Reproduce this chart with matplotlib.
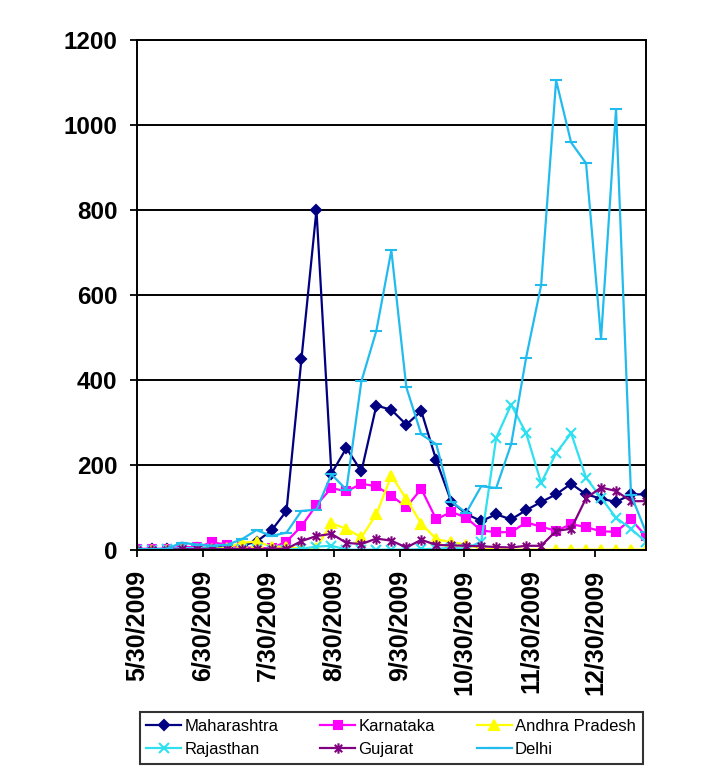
import matplotlib
matplotlib.use('Agg')
import matplotlib.pyplot as plt
from matplotlib.path import Path
import pandas as pd

# weekly counts, first week starting 5/30/2009
weeks = pd.date_range('2009-05-30', periods=35, freq='7D')

maharashtra = [2, 2, 3, 5, 5, 5, 8, 10, 20, 46, 92, 450, 800, 180, 240, 185, 340, 330,
               295, 327, 211, 114, 85, 68, 84, 72, 94, 113, 131, 156, 131, 121, 113, 131, 131]
karnataka = [3, 3, 2, 8, 6, 18, 13, 6, 5, 4, 20, 56, 106, 146, 138, 156, 150, 128,
             101, 144, 72, 90, 76, 46, 42, 42, 65, 55, 45, 61, 54, 44, 43, 72, 33]
andhra = [0, 0, 1, 2, 3, 3, 5, 17, 20, 8, 8, 3, 5, 63, 50, 30, 84, 175,
          120, 62, 26, 18, 13, 3, 2, 1, 1, 1, 1, 1, 1, 1, 1, 1, 1]
rajasthan = [1, 1, 2, 5, 4, 3, 2, 2, 2, 1, 1, 3, 8, 10, 1, 1, 1, 1,
             1, 2, 3, 5, 3, 20, 264, 342, 275, 158, 228, 275, 170, 123, 76, 50, 19]
gujarat = [1, 1, 1, 2, 2, 2, 2, 3, 2, 3, 3, 21, 33, 38, 17, 14, 27, 22,
           6, 24, 12, 11, 10, 9, 7, 6, 10, 10, 45, 50, 122, 147, 139, 115, 115]
delhi = [2, 2, 3, 17, 13, 10, 12, 25, 47, 33, 41, 92, 95, 178, 142, 397, 516, 705,
         383, 272, 249, 114, 88, 150, 146, 249, 453, 623, 1105, 959, 910, 497, 1037, 130, 42]

tick_dates = ['2009-05-30', '2009-06-30', '2009-07-30', '2009-08-30',
              '2009-09-30', '2009-10-30', '2009-11-30', '2009-12-30']
tick_labels = ['5/30/2009', '6/30/2009', '7/30/2009', '8/30/2009',
               '9/30/2009', '10/30/2009', '11/30/2009', '12/30/2009']
y_ticks = [0, 200, 400, 600, 800, 1000, 1200]

plt.rcParams['font.family'] = ['Liberation Sans', 'DejaVu Sans']

# excel style "star" marker: x with a vertical bar
star = Path([(-1, -1), (1, 1), (-1, 1), (1, -1), (0, -1.4), (0, 1.4)],
            [Path.MOVETO, Path.LINETO] * 3)

fig = plt.figure(figsize=(7.18, 7.77), dpi=100)
ax = fig.add_axes([0.1904, 0.2921, 0.7093, 0.6564])

series = [
    ('Maharashtra', maharashtra, '#000080', 'D', 5.5),
    ('Karnataka', karnataka, '#FF00FF', 's', 6),
    ('Andhra Pradesh', andhra, '#FFFF00', '^', 6.5),
    ('Rajasthan', rajasthan, '#2EE0F0', 'x', 6.5),
    ('Gujarat', gujarat, '#800080', star, 7.5),
    ('Delhi', delhi, '#22BBEE', '_', 8),
]

handles = {}
for name, vals, col, mk, ms in series:
    ln, = ax.plot(weeks, vals, color=col, lw=1.6, marker=mk, ms=ms,
                  mfc=col, mec=col, mew=1.5, label=name)
    handles[name] = ln

ax.set_xlim(weeks[0], weeks[-1])
ax.set_ylim(0, 1200)
ax.set_yticks(y_ticks)
ax.set_yticklabels([str(v) for v in y_ticks], fontsize=17.5, fontweight='bold')
ax.set_xticks(pd.to_datetime(tick_dates))
ax.set_xticklabels(tick_labels, rotation=90, fontsize=18, fontweight='bold', va='top')
ax.tick_params(axis='both', direction='out', length=5, width=1.3, color='black')
ax.tick_params(axis='y', pad=9)
ax.tick_params(axis='x', pad=9)
ax.yaxis.grid(True, color='black', lw=1.4)
ax.set_axisbelow(True)
for sp in ax.spines.values():
    sp.set_color('black')
    sp.set_linewidth(1.4)

order = ['Maharashtra', 'Rajasthan', 'Karnataka', 'Gujarat', 'Andhra Pradesh', 'Delhi']
leg = fig.legend([handles[n] for n in order], order, loc='center',
                 bbox_to_anchor=(0.5446, 0.0502), ncol=3, fontsize=12,
                 frameon=True, fancybox=False, edgecolor='black',
                 handlelength=2.1, handletextpad=0.2, columnspacing=2.5,
                 borderpad=0.4, labelspacing=0.5, borderaxespad=0)
leg.get_frame().set_linewidth(1.5)

fig.savefig('out.png', dpi=100)
